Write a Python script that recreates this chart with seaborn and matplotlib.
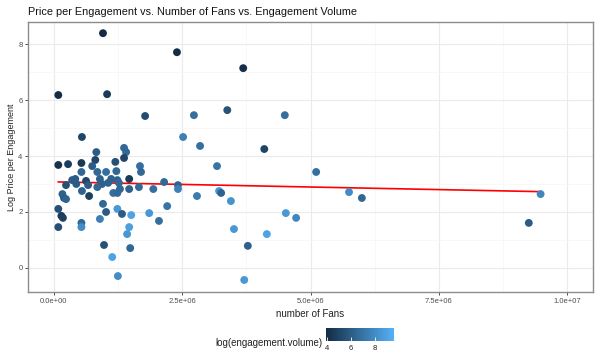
import numpy as np
import pandas as pd
import matplotlib
matplotlib.use('Agg')
import matplotlib.pyplot as plt
import seaborn as sns
from matplotlib.colors import LinearSegmentedColormap, Normalize
from matplotlib.ticker import MultipleLocator, FuncFormatter

# number of fans (millions)
fans_m = [0.96, 2.40, 3.69, 0.09, 1.04, 1.78, 2.73, 3.38, 4.50, 0.55,
          2.52, 2.85, 4.10, 0.83, 1.37, 1.41, 1.37, 0.81, 1.20, 0.09,
          0.28, 0.54, 0.75, 1.68, 3.18, 5.11, 0.85, 0.54, 1.02, 1.22,
          1.70, 0.36, 0.42, 0.24, 0.44, 0.63, 0.67, 0.90, 0.94, 1.06,
          1.12, 1.24, 1.27, 1.47, 0.55, 0.85, 0.69, 0.17, 0.20, 0.24,
          1.16, 1.24, 1.29, 1.47, 1.66, 1.94, 2.15, 2.42, 2.42, 0.09,
          0.15, 0.18, 0.09, 0.54, 0.54, 0.96, 1.02, 0.90, 1.24, 1.33,
          1.51, 1.47, 1.43, 1.86, 2.05, 2.21, 0.98, 1.49, 1.14, 1.25,
          2.79, 3.22, 3.26, 3.45, 3.51, 3.78, 3.71, 4.15, 4.52, 4.72,
          5.75, 6.00, 9.25, 9.48]

# log price per engagement
log_price = [8.39, 7.71, 7.14, 6.18, 6.21, 5.43, 5.46, 5.64, 5.46, 4.68,
             4.68, 4.36, 4.25, 4.14, 4.29, 4.14, 3.93, 3.86, 3.79, 3.68,
             3.71, 3.75, 3.64, 3.64, 3.64, 3.43, 3.43, 3.43, 3.43, 3.46,
             3.43, 3.14, 3.18, 2.96, 3.00, 3.11, 2.96, 3.18, 3.00, 3.04,
             3.18, 3.14, 3.04, 3.18, 2.75, 2.89, 2.57, 2.64, 2.50, 2.46,
             2.68, 2.68, 2.82, 2.82, 2.89, 2.82, 3.07, 2.96, 2.82, 2.11,
             1.86, 1.79, 1.46, 1.61, 1.46, 2.29, 2.00, 1.75, 2.11, 1.93,
             1.89, 1.46, 1.21, 1.96, 1.68, 2.21, 0.82, 0.71, 0.39, -0.29,
             2.57, 2.75, 2.68, 2.39, 1.39, 0.79, -0.43, 1.21, 1.96, 1.79,
             2.71, 2.50, 1.61, 2.64]

# log(engagement.volume), estimated from the colour
log_volume = [3.9, 4.0, 4.1, 4.0, 4.6, 5.3, 6.8, 5.6, 6.8, 5.0,
              7.5, 6.8, 5.0, 6.0, 6.5, 6.5, 5.0, 5.0, 5.5, 4.2,
              4.7, 4.5, 6.0, 6.8, 7.0, 6.8, 6.5, 6.5, 6.8, 6.5,
              6.5, 6.0, 6.0, 5.5, 6.0, 5.0, 6.0, 6.2, 6.2, 6.3,
              6.3, 6.3, 6.5, 4.5, 6.3, 6.5, 4.8, 6.2, 6.0, 6.3,
              6.8, 6.5, 6.5, 6.3, 6.6, 6.8, 6.5, 6.3, 7.5, 5.5,
              4.5, 4.8, 5.5, 6.5, 8.0, 6.5, 6.0, 7.5, 8.5, 6.0,
              9.0, 8.8, 8.5, 8.5, 6.8, 7.0, 5.5, 6.5, 9.0, 8.0,
              7.3, 8.5, 6.3, 8.3, 8.5, 6.2, 8.5, 9.0, 8.5, 7.8,
              8.0, 6.5, 6.0, 7.8]

x_ticks = [0, 2.5e6, 5e6, 7.5e6, 1e7]
y_ticks = [0, 2, 4, 6, 8]

df = pd.DataFrame({
    'fans': np.array(fans_m) * 1e6,
    'price': log_price,
    'volume': log_volume,
})

cmap = LinearSegmentedColormap.from_list('gg', ['#132B43', '#56B1F7'])
norm = Normalize(vmin=3.9, vmax=9.6)

plt.rcParams['font.family'] = ['Liberation Sans', 'DejaVu Sans']

fig = plt.figure(figsize=(6, 3.6), dpi=100)
ax = fig.add_axes([28 / 600, 1 - 292 / 360, 565 / 600, 270 / 360])

sns.scatterplot(data=df, x='fans', y='price', hue='volume', palette=cmap,
                hue_norm=norm, s=32, linewidth=0, legend=False, ax=ax, zorder=3)
sns.regplot(data=df, x='fans', y='price', scatter=False, ci=None,
            color='#FF0000', line_kws={'linewidth': 1.2}, ax=ax)

ax.set_xlim(-0.5e6, 10.5e6)
ax.set_ylim(-0.86, 8.79)
ax.set_xticks(x_ticks)
ax.set_yticks(y_ticks)
ax.xaxis.set_major_formatter(FuncFormatter(lambda v, p: f'{v:.1e}'))
ax.xaxis.set_minor_locator(MultipleLocator(1.25e6))
ax.yaxis.set_minor_locator(MultipleLocator(1))
ax.grid(which='major', color='#EBEBEB', linewidth=0.8)
ax.grid(which='minor', color='#F5F5F5', linewidth=0.5)
ax.set_axisbelow(True)
for s in ax.spines.values():
    s.set_color('#8C8C8C')
    s.set_linewidth(1.0)
ax.tick_params(which='major', labelsize=5.5, labelcolor='#4D4D4D',
               color='#333333', length=2.5, width=0.6, pad=1.5)
ax.tick_params(which='minor', length=0)

ax.set_xlabel('number of Fans', fontsize=7, color='#222222', labelpad=3)
ax.set_ylabel('Log Price per Engagement', fontsize=6.5, color='#222222')
ax.yaxis.set_label_coords(-0.022, 0.5)
ax.set_title('Price per Engagement vs. Number of Fans vs. Engagement Volume',
             fontsize=7.8, loc='left', color='#111111', pad=5)

# colour bar legend at the bottom
cax = fig.add_axes([326 / 600, 1 - 341 / 360, 68 / 600, 13 / 360])
sm = plt.cm.ScalarMappable(norm=norm, cmap=cmap)
cb = fig.colorbar(sm, cax=cax, orientation='horizontal', ticks=[4, 6, 8])
cb.outline.set_visible(False)
cax.tick_params(labelsize=5.5, labelcolor='#222222', color='white',
                direction='in', length=3, width=0.6, pad=3)
fig.text(322 / 600, 1 - 343 / 360, 'log(engagement.volume)', fontsize=7,
         color='#222222', ha='right', va='center')

fig.savefig('out.png', dpi=100, facecolor='white')
